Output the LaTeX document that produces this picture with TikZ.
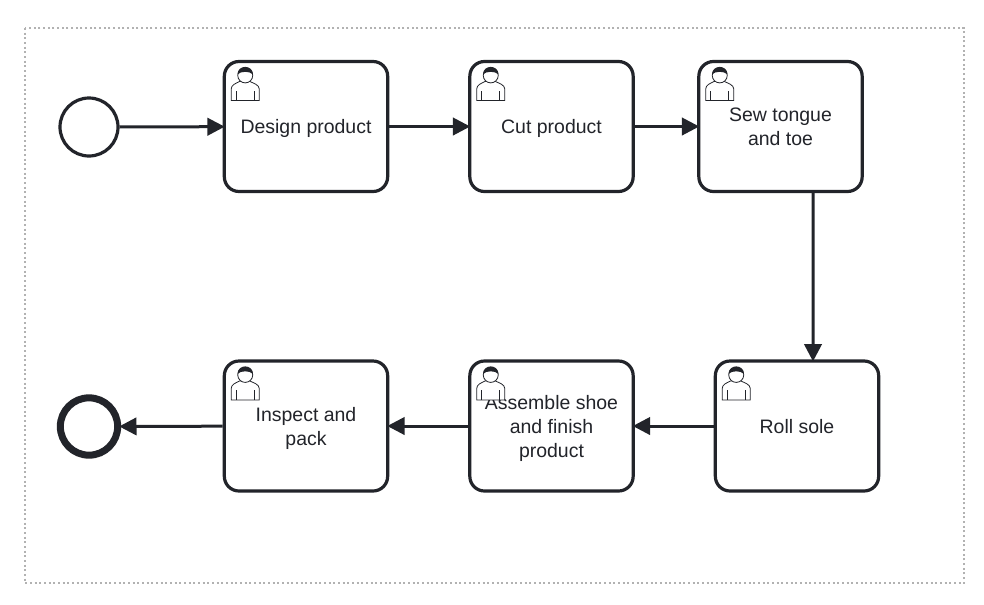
\documentclass[tikz,border=0pt]{standalone}
\usepackage{fontspec}
\setmainfont{Liberation Sans}
\usetikzlibrary{arrows.meta, positioning}

\begin{document}
\begin{tikzpicture}[
    x=0.75pt, y=-0.75pt,
    >={Triangle[length=13pt,width=13pt]},
    font=\fontsize{14.6pt}{18pt}\selectfont,
    taskbox/.style={
        draw=linecol,
        line width=2.4pt,
        rounded corners=11pt,
        fill=white,
        minimum width=122.5pt,
        minimum height=97.5pt,
        inner sep=1.5pt,
        text depth=0pt,
        align=center,
        text=linecol
    },
    startev/.style={
        draw=linecol,
        line width=2.4pt,
        circle,
        fill=white,
        minimum size=43.5pt,
        inner sep=0pt
    },
    endev/.style={
        draw=linecol,
        line width=5.25pt,
        circle,
        fill=white,
        minimum size=43pt,
        inner sep=0pt
    },
    flow/.style={
        ->,
        draw=linecol,
        line width=2.25pt,
        shorten >=-1.5pt
    },
    person/.pic={
        % head and shoulders, offset from the corner of the task
        \draw[line width=0.6pt, draw=linecol, fill=white]
            (8.5,40.5) -- (8.5,29) .. controls (8.5,25) and (13,23.5) .. (17,21.5)
            -- (27,21.5) .. controls (31,23.5) and (36.5,25) .. (36.5,29) -- (36.5,40.5) -- cycle;
        \draw[line width=0.6pt, draw=linecol] (13.5,40.5) -- (13.5,31);
        \draw[line width=0.6pt, draw=linecol] (31.5,40.5) -- (31.5,31);
        \draw[line width=0.6pt, draw=linecol, fill=white] (22.5,15.5) circle (7.5);
        \fill[linecol] (14.8,14.5) .. controls (14.8,4.5) and (30.2,4.5) .. (30.2,14.5)
            .. controls (27,11) and (18,11) .. (14.8,14.5) -- cycle;
    }
]
\definecolor{linecol}{HTML}{22242A}

\useasboundingbox (0,0) rectangle (984,604);

% =========================================================
% Frame
% =========================================================
\draw[black!30, line width=1.5pt, dash pattern=on 1.5pt off 2pt] (25,28) rectangle (964,583);

% =========================================================
% Top row
% =========================================================
\node[startev] (start) at (89,127) {};
\node[taskbox] (design) at (306,126.5) {Design product};
\node[taskbox] (cut)    at (551.5,126.5) {Cut product};
\node[taskbox] (sew)    at (780.5,126.5) {Sew tongue\\and toe};

% =========================================================
% Bottom row
% =========================================================
\node[taskbox] (roll)     at (797,426) {Roll sole};
\node[taskbox] (assemble) at (551.5,426) {Assemble shoe\\and finish\\product};
\node[taskbox] (inspect)  at (306,426) {Inspect and\\pack};
\node[endev]   (finish)   at (89,426.5) {};

% person icons
\pic at (design.north west) {person};
\pic at (cut.north west) {person};
\pic at (sew.north west) {person};
\pic at (roll.north west) {person};
\pic at (assemble.north west) {person};
\pic at (inspect.north west) {person};

% flows
\draw[flow] (start) -- (design);
\draw[flow] (design) -- (cut);
\draw[flow] (cut) -- (sew);
\draw[flow] ([xshift=24.4pt]sew.south) -- ([xshift=12pt]roll.north);
\draw[flow] (roll) -- (assemble);
\draw[flow] (assemble) -- (inspect);
\draw[flow] (inspect) -- (finish);

\end{tikzpicture}
\end{document}
